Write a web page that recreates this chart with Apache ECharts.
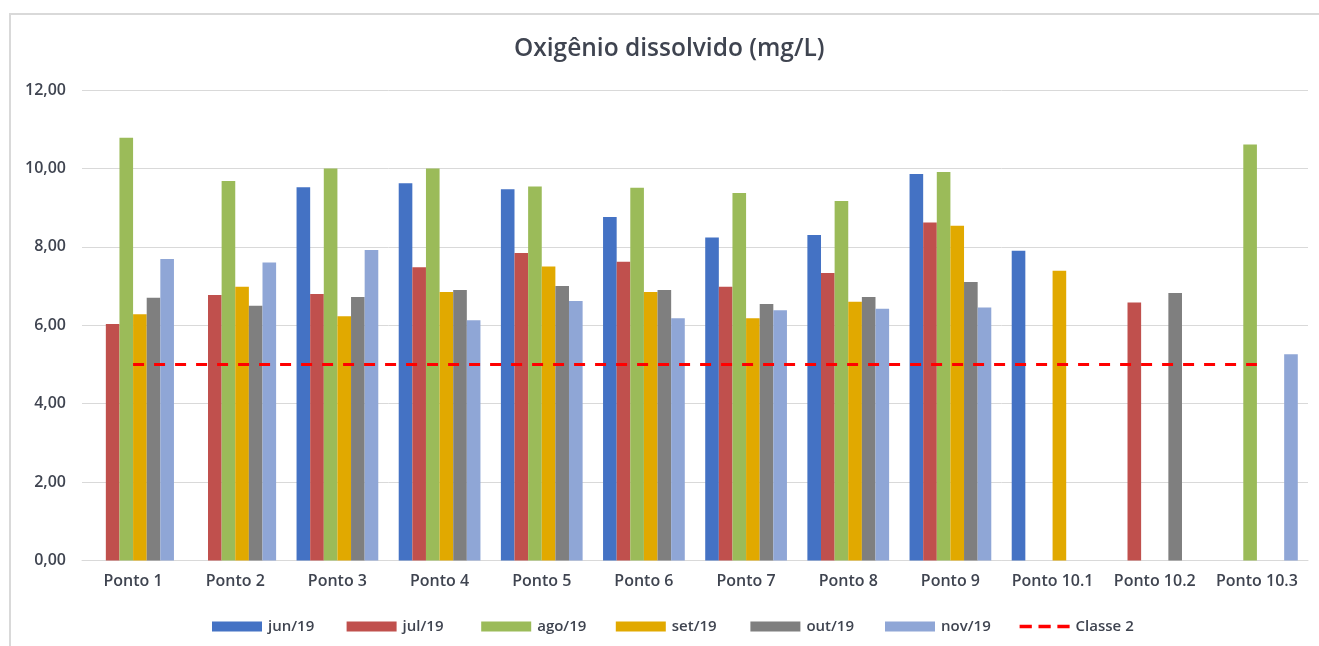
<!DOCTYPE html>
<html>
<head>
<meta charset="utf-8">
<title>Oxigênio dissolvido (mg/L)</title>
<script src="https://cdn.jsdelivr.net/npm/echarts@6/dist/echarts.min.js"></script>
<style>
  html, body { margin: 0; padding: 0; background: #ffffff; }
  #chart { width: 1319px; height: 646px; }
</style>
</head>
<body>
<div id="chart"></div>
<script>
// Sampling points along the river
const categories = ['Ponto 1', 'Ponto 2', 'Ponto 3', 'Ponto 4', 'Ponto 5', 'Ponto 6',
  'Ponto 7', 'Ponto 8', 'Ponto 9', 'Ponto 10.1', 'Ponto 10.2', 'Ponto 10.3'];

// Monthly dissolved oxygen readings (mg/L); null = no sample
const jun19 = [null, null, 9.52, 9.62, 9.47, 8.76, 8.24, 8.30, 9.86, 7.90, null, null];
const jul19 = [6.03, 6.77, 6.80, 7.48, 7.84, 7.62, 6.98, 7.33, 8.62, null, 6.58, null];
const ago19 = [10.78, 9.68, 10.00, 10.00, 9.54, 9.51, 9.37, 9.17, 9.91, null, null, 10.61];
const set19 = [6.28, 6.98, 6.23, 6.85, 7.50, 6.85, 6.18, 6.60, 8.54, 7.39, null, null];
const out19 = [6.70, 6.50, 6.72, 6.90, 7.00, 6.90, 6.54, 6.72, 7.10, null, 6.82, null];
const nov19 = [7.69, 7.60, 7.92, 6.13, 6.62, 6.18, 6.38, 6.42, 6.45, null, null, 5.26];

// Class 2 minimum limit
const classe2 = [5, 5, 5, 5, 5, 5, 5, 5, 5, 5, 5, 5];

// Y axis ticks
const yMin = 0, yMax = 12, yStep = 2;

const textColor = '#3f4450';
const fontFamily = '"Open Sans", "Noto Sans", sans-serif';

const barDefs = [
  { name: 'jun/19', data: jun19, color: '#4472C4' },
  { name: 'jul/19', data: jul19, color: '#C0504D' },
  { name: 'ago/19', data: ago19, color: '#9BBB59' },
  { name: 'set/19', data: set19, color: '#E1A900' },
  { name: 'out/19', data: out19, color: '#7F7F7F' },
  { name: 'nov/19', data: nov19, color: '#8FA6D6' }
];

const barSeries = barDefs.map(s => ({
  name: s.name,
  type: 'bar',
  data: s.data,
  barGap: '0%',
  barCategoryGap: '20%',
  itemStyle: { color: s.color },
  emphasis: { disabled: true }
}));

// One legend block per entry so every entry sits in an equal-width slot
const legendNames = barDefs.map(s => s.name).concat(['Classe 2']);
const legends = legendNames.map((name, i) => ({
  left: 207 + i * 134.6,
  top: 614,
  itemWidth: 50,
  itemHeight: 10,
  icon: 'rect',
  selectedMode: false,
  textStyle: { fontFamily: fontFamily, fontSize: 15, fontWeight: 600, color: textColor, padding: [0, 0, 0, 1] },
  data: [name === 'Classe 2'
    ? { name: name, icon: 'path://M0,0 L11,0 L11,3 L0,3 Z M17,0 L28,0 L28,3 L17,3 Z M34,0 L45,0 L45,3 L34,3 Z', itemStyle: { color: '#FF0000' } }
    : name]
}));

const chart = echarts.init(document.getElementById('chart'));
chart.setOption({
  animation: false,
  backgroundColor: '#ffffff',
  textStyle: { fontFamily: fontFamily },
  graphic: [{
    type: 'rect',
    shape: { x: 10, y: 14, width: 1400, height: 700 },
    style: { fill: 'none', stroke: '#d9d9d9', lineWidth: 2 },
    silent: true
  }],
  title: {
    text: 'Oxigênio dissolvido (mg/L)',
    left: 509,
    top: 32,
    textStyle: { fontFamily: fontFamily, fontSize: 24.5, fontWeight: 600, color: textColor }
  },
  grid: { left: 82, right: 11, top: 90, bottom: 85.5, containLabel: false },
  legend: legends,
  xAxis: {
    type: 'category',
    data: categories,
    axisTick: { show: false },
    axisLine: { show: true, lineStyle: { color: '#d9d9d9', width: 1 } },
    axisLabel: { margin: 13, fontFamily: fontFamily, fontSize: 16, fontWeight: 600, color: textColor, interval: 0 }
  },
  yAxis: {
    type: 'value',
    min: yMin,
    max: yMax,
    interval: yStep,
    axisLine: { show: false },
    axisTick: { show: false },
    splitLine: { lineStyle: { color: '#d9d9d9', width: 1 } },
    axisLabel: {
      margin: 16,
      fontFamily: fontFamily, fontSize: 16, fontWeight: 600, color: textColor,
      formatter: v => v.toFixed(2).replace('.', ',')
    }
  },
  series: barSeries.concat([{
    name: 'Classe 2',
    type: 'line',
    data: classe2,
    symbol: 'none',
    z: 5,
    itemStyle: { color: '#FF0000' },
    lineStyle: { color: '#FF0000', width: 3, type: [11, 10] },
    emphasis: { disabled: true }
  }])
});
</script>
</body>
</html>
